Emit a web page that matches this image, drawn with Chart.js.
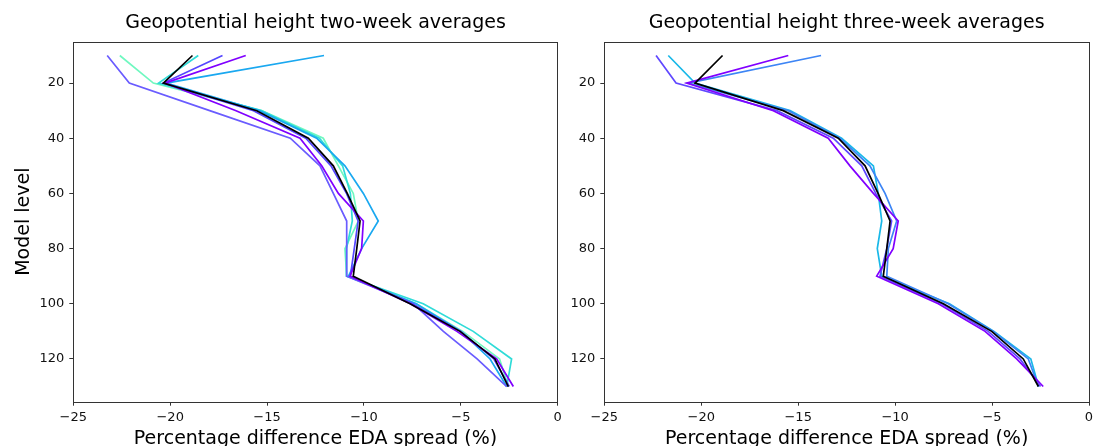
<!DOCTYPE html>
<html>
<head>
<meta charset="utf-8">
<script src="https://cdn.jsdelivr.net/npm/chart.js@4"></script>
<style>
  html, body { margin: 0; padding: 0; background: #fff; overflow: hidden; }
  #wrap { position: relative; width: 1093px; height: 446px; }
  canvas { position: absolute; top: 0; }
  #twoWeek { left: 0; }
  #threeWeek { left: 560px; }
</style>
</head>
<body>
<div id="wrap">
  <canvas id="twoWeek" width="566" height="446"></canvas>
  <canvas id="threeWeek" width="540" height="446"></canvas>
</div>
<script>
// model levels (y) shared by every profile
const levels = [10, 20, 30, 40, 50, 60, 70, 80, 90, 100, 110, 120, 130];
const xTicks = [-25, -20, -15, -10, -5, 0];
const yTicks = [20, 40, 60, 80, 100, 120];

// two-week averages, percentage difference per level
const twoMean   = [-18.85, -20.35, -15.53, -12.87, -11.58, -10.86, -10.2, -10.37, -10.55, -7.62, -5.04, -3.24, -2.55];
const twoA      = [-16.1, -20.27, -16.6, -13.3, -12.18, -11.32, -10.03, -10.12, -10.72, -7.6, -5.2, -3.15, -2.29];
const twoB      = [-17.3, -20.35, -15.7, -13.0, -11.7, -10.9, -10.3, -10.5, -10.7, -7.5, -5.0, -3.3, -2.5];
const twoC      = [-23.25, -22.11, -17.96, -13.8, -12.27, -11.58, -10.89, -10.89, -10.89, -7.45, -5.9, -4.16, -2.63];
const twoD      = [-12.06, -20.2, -15.4, -12.44, -10.98, -10.03, -9.26, -10.12, -10.8, -7.3, -5.0, -3.49, -2.63];
const twoE      = [-18.55, -20.6, -15.3, -12.3, -11.1, -10.7, -10.6, -10.9, -10.9, -6.94, -4.36, -2.38, -2.63];
const twoF      = [-22.6, -20.87, -15.28, -12.1, -11.32, -10.55, -10.29, -10.98, -10.89, -7.3, -4.9, -3.0, -2.55];

// three-week averages
const threeMean = [-18.9, -20.32, -15.77, -12.93, -11.55, -10.88, -10.26, -10.43, -10.61, -7.51, -5.02, -3.39, -2.61];
const threeA    = [-15.51, -20.75, -16.28, -13.45, -12.33, -11.12, -9.84, -10.1, -10.95, -7.77, -5.36, -3.73, -2.36];
const threeB    = [-22.33, -21.3, -16.1, -13.19, -11.72, -11.0, -10.18, -10.43, -10.78, -7.6, -5.2, -3.56, -2.5];
const threeC    = [-13.82, -20.67, -15.51, -12.85, -11.3, -10.52, -9.92, -10.35, -10.43, -7.26, -4.94, -3.13, -2.61];
const threeD    = [-21.7, -20.32, -15.42, -12.76, -11.12, -10.87, -10.69, -10.92, -10.69, -7.2, -4.9, -3.0, -2.6];

Chart.defaults.font.family = 'DejaVu Sans';
Chart.defaults.color = '#111';

const boxPlugin = {
  id: 'box',
  afterDraw(chart) {
    const a = chart.chartArea;
    const ctx = chart.ctx;
    ctx.save();
    ctx.strokeStyle = '#333';
    ctx.lineWidth = 1;
    ctx.strokeRect(Math.round(a.left) + 0.5, Math.round(a.top) + 0.5,
                   Math.round(a.right - a.left), Math.round(a.bottom - a.top));
    ctx.restore();
  }
};

function profile(vals, color) {
  return {
    data: levels.map((l, i) => ({ x: vals[i], y: l })),
    borderColor: color,
    borderWidth: 1.7,
    showLine: true,
    pointRadius: 0,
    fill: false
  };
}

function makeChart(id, title, sets, yWidth, padRight, showYTitle) {
  new Chart(document.getElementById(id), {
    type: 'scatter',
    data: { datasets: sets },
    options: {
      responsive: false,
      animation: false,
      layout: { padding: { left: 0, right: padRight, top: 0, bottom: 0 } },
      plugins: {
        legend: { display: false },
        tooltip: { enabled: false },
        title: {
          display: true,
          fullSize: false,
          text: title,
          color: '#000',
          font: { size: 19, weight: 'normal' },
          padding: { top: 11.6, bottom: 7.3 }
        }
      },
      scales: {
        x: {
          type: 'linear',
          min: -25,
          max: 0,
          afterBuildTicks: s => { s.ticks = xTicks.map(v => ({ value: v })); },
          afterFit: s => { s.height = 44.3; },
          ticks: {
            font: { size: 13 },
            padding: 4,
            maxRotation: 0,
            callback: v => String(v).replace('-', '\u2212')
          },
          grid: { drawOnChartArea: false, drawTicks: true, tickLength: 4, color: '#333' },
          border: { display: false },
          title: {
            display: true,
            text: 'Percentage difference EDA spread (%)',
            color: '#000',
            font: { size: 19 },
            padding: { top: 0, bottom: -4.6 }
          }
        },
        y: {
          type: 'linear',
          reverse: true,
          min: 5,
          max: 135.5,
          afterBuildTicks: s => { s.ticks = yTicks.map(v => ({ value: v })); },
          afterFit: s => { s.width = yWidth; },
          ticks: { font: { size: 13 }, padding: 5 },
          grid: { drawOnChartArea: false, drawTicks: true, tickLength: 4, color: '#333' },
          border: { display: false },
          title: {
            display: showYTitle,
            text: 'Model level',
            color: '#000',
            font: { size: 19 },
            padding: { top: 12.6 }
          }
        }
      }
    },
    plugins: [boxPlugin]
  });
}

makeChart('twoWeek', 'Geopotential height two-week averages', [
  profile(twoMean, '#000000'),
  profile(twoA, '#8000ff'),
  profile(twoB, '#5546ff'),
  profile(twoC, '#6a5cff'),
  profile(twoD, '#1aa8f0'),
  profile(twoE, '#30dcd8'),
  profile(twoF, '#70f8c0')
], 73.3, 8.3, true);

makeChart('threeWeek', 'Geopotential height three-week averages', [
  profile(threeMean, '#000000'),
  profile(threeA, '#8000ff'),
  profile(threeB, '#6048ff'),
  profile(threeC, '#3d85f5'),
  profile(threeD, '#19b8e8')
], 44.3, 11, false);
</script>
</body>
</html>
